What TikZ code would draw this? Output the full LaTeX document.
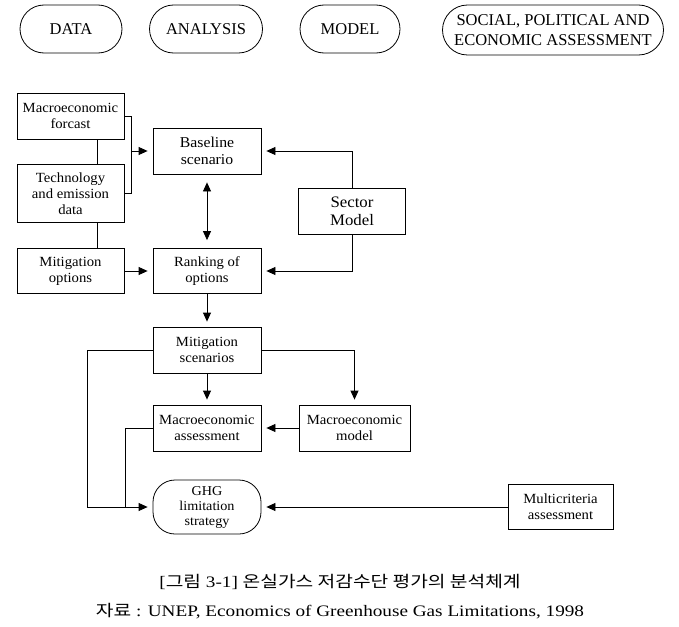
\documentclass[tikz,border=0pt]{standalone}
\usepackage{fontspec}
\setmainfont{Liberation Serif}
\newfontfamily\boxfont[FakeStretch=1.05]{Liberation Serif}
\newfontfamily\capfont[FakeStretch=1.2]{Liberation Serif}
\newfontfamily\krfont[FakeStretch=1.2]{Noto Sans CJK KR}
\usetikzlibrary{arrows.meta,calc}
\begin{document}
\begin{tikzpicture}[x=1pt,y=-1pt,
  box/.style={draw,line width=0.8pt,inner sep=0pt,align=center,font=\boxfont\fontsize{14}{16}\selectfont},
  head/.style={draw,line width=0.8pt,inner sep=0pt,align=center,rounded corners=24pt,font=\fontsize{16.5}{20}\selectfont},
  arr/.style={line width=0.8pt,-{Triangle[length=9pt,width=8pt]},shorten >=5pt},
  ln/.style={line width=0.8pt}]
\useasboundingbox (0,0) rectangle (679,626);
% header
\node[head,minimum width=102,minimum height=48] (data) at (71,29) {DATA};
\node[head,minimum width=113,minimum height=48] (analysis) at (206,29) {ANALYSIS};
\node[head,minimum width=100,minimum height=48] (model) at (350,29) {MODEL};
\node[head,minimum width=221,minimum height=50,rounded corners=25pt] (social) at (553,30) {SOCIAL, POLITICAL AND\\ECONOMIC ASSESSMENT};
% boxes
\node[box,minimum width=107,minimum height=46] (mf) at (70.5,116) {Macroeconomic\\forcast};
\node[box,minimum width=107,minimum height=58] (tech) at (70.5,193.5) {Technology\\and emission\\data};
\node[box,minimum width=107,minimum height=45] (mo) at (70.5,271) {Mitigation\\options};
\node[box,minimum width=108,minimum height=46,font=\boxfont\fontsize{15}{17}\selectfont] (base) at (207,151) {Baseline\\scenario};
\node[box,minimum width=107,minimum height=46,font=\boxfont\fontsize{16}{18}\selectfont] (sector) at (352,211) {Sector\\Model};
\node[box,minimum width=108,minimum height=45] (rank) at (207,271) {Ranking of\\options};
\node[box,minimum width=108,minimum height=46] (ms) at (207,350) {Mitigation\\scenarios};
\node[box,minimum width=108,minimum height=46] (mass) at (207,428) {Macroeconomic\\assessment};
\node[box,minimum width=111,minimum height=46] (mmod) at (354.5,428) {Macroeconomic\\model};
\node[box,minimum width=108,minimum height=54,rounded corners=22pt,font=\boxfont\fontsize{13.5}{15}\selectfont] (ghg) at (207,507) {GHG\\limitation\\strategy};
\node[box,minimum width=105,minimum height=45] (multi) at (560.5,507) {Multicriteria\\assessment};
% connectors
\draw[ln] ($(mf.south)+(26.5,0)$) -- ($(tech.north)+(26.5,0)$);
\draw[ln] ($(tech.south)+(26.5,0)$) -- ($(mo.north)+(26.5,0)$);
\draw[ln] (mf.east) -- ++(7,0) coordinate (bt) |- (tech.east);
\coordinate (bm) at (bt |- base.west);
\draw[arr] (bm) -- (base.west);
\draw[arr] (sector.north) |- (base.east);
\draw[arr] (sector.south) |- (rank.east);
\draw[line width=0.8pt,{Triangle[length=9pt,width=8pt]}-{Triangle[length=9pt,width=8pt]},shorten >=8pt,shorten <=8pt] (base.south) -- (rank.north);
\draw[arr] (mo.east) -- (rank.west);
\draw[arr] (rank.south) -- (ms.north);
\draw[arr] (ms.south) -- (mass.north);
\draw[arr] (ms.east) -| (mmod.north);
\draw[arr] (mmod.west) -- (mass.east);
\draw[arr] (ms.west) -- ++(-65,0) |- (ghg.west);
\draw[ln,shorten >=12pt] (mass.west) -- ++(-27,0) |- (ghg.west);
\draw[arr] (multi.west) -- (ghg.east);
% captions
\node[inner sep=0pt,font=\capfont\fontsize{16}{18}\selectfont] (cap1) at (340,582) {[{\krfont 그림} 3-1] {\krfont 온실가스 저감수단 평가의 분석체계}};
\node[inner sep=0pt,font=\capfont\fontsize{16}{18}\selectfont] (cap2) at (340,611) {{\krfont 자료} : UNEP, Economics of Greenhouse Gas Limitations, 1998};
\end{tikzpicture}
\end{document}
